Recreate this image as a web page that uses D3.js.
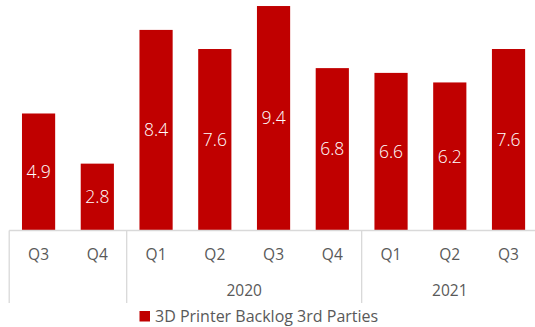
<!DOCTYPE html>
<html>
<head>
<meta charset="utf-8">
<script src="https://cdn.jsdelivr.net/npm/d3@7"></script>
<style>
  html, body { margin: 0; padding: 0; background: #fff; }
  svg { display: block; }
</style>
</head>
<body>
<svg id="chart" width="535" height="327"></svg>
<script>
// Quarterly backlog, 3D printers, third parties
const quarters = ["Q3", "Q4", "Q1", "Q2", "Q3", "Q4", "Q1", "Q2", "Q3"];
const years = ["2019", "2019", "2020", "2020", "2020", "2020", "2021", "2021", "2021"];
const backlog = [4.9, 2.8, 8.4, 7.6, 9.4, 6.8, 6.6, 6.2, 7.6];
const yearLabels = ["", "2020", "2021"];
const seriesName = "3D Printer Backlog 3rd Parties";

const W = 535, H = 327;
const barColor = "#c00000";
const axisColor = "#d9d9d9";
const textColor = "#595959";
const font = "'Open Sans', 'Noto Sans', sans-serif";
const labelSize = 15.5;

const svg = d3.select("#chart");
const baseY = 230.5;

const x = d3.scaleBand()
  .domain(d3.range(backlog.length))
  .range([9.2, 537.9])
  .paddingInner(0.435)
  .paddingOuter(0.2175);

const y = d3.scaleLinear().domain([0, 10]).range([baseY, baseY - 238.8]);

// bars
svg.append("g").selectAll("rect")
  .data(backlog)
  .join("rect")
  .attr("x", (d, i) => x(i))
  .attr("width", x.bandwidth())
  .attr("y", d => y(d))
  .attr("height", d => y(0) - y(d))
  .attr("fill", barColor);

// value labels, centred inside each bar
svg.append("g").selectAll("text")
  .data(backlog)
  .join("text")
  .attr("x", (d, i) => x(i) + x.bandwidth() / 2)
  .attr("y", d => (y(d) + y(0)) / 2)
  .attr("dy", "0.35em")
  .attr("text-anchor", "middle")
  .attr("fill", "#fff")
  .attr("font-family", font)
  .attr("font-weight", 300)
  .attr("font-size", 17.5)
  .text(d => d.toFixed(1));

// category axis: baseline and group dividers
const step = x.step();
const left = x.range()[0];
const axis = svg.append("g").attr("stroke", axisColor).attr("stroke-width", 1.3).attr("fill", "none");
axis.append("line").attr("x1", left).attr("x2", W).attr("y1", baseY).attr("y2", baseY);

// year groups from the years array
const groups = d3.groups(years.map((yr, i) => ({ yr, i })), d => d.yr)
  .map(([yr, items], k) => ({
    label: yearLabels[k],
    start: left + items[0].i * step,
    end: left + (items[items.length - 1].i + 1) * step
  }));

groups.forEach(g => {
  axis.append("line").attr("x1", g.start).attr("x2", g.start).attr("y1", baseY).attr("y2", 303);
});

// quarter labels
svg.append("g").selectAll("text")
  .data(quarters)
  .join("text")
  .attr("x", (d, i) => x(i) + x.bandwidth() / 2)
  .attr("y", 255)
  .attr("dy", "0.35em")
  .attr("text-anchor", "middle")
  .attr("fill", textColor)
  .attr("font-family", font)
  .attr("font-size", labelSize)
  .text(d => d);

// year labels
svg.append("g").selectAll("text")
  .data(groups.filter(g => g.label))
  .join("text")
  .attr("x", g => (g.start + g.end) / 2)
  .attr("y", 290.5)
  .attr("dy", "0.35em")
  .attr("text-anchor", "middle")
  .attr("fill", textColor)
  .attr("font-family", font)
  .attr("font-size", labelSize)
  .text(g => g.label);

// legend
const legend = svg.append("g").attr("transform", "translate(139.5, 311)");
legend.append("rect").attr("width", 10.5).attr("height", 10.5).attr("fill", barColor);
legend.append("text")
  .attr("x", 15.5)
  .attr("y", 5.5)
  .attr("dy", "0.35em")
  .attr("fill", textColor)
  .attr("font-family", font)
  .attr("font-size", 16)
  .text(seriesName);
</script>
</body>
</html>
